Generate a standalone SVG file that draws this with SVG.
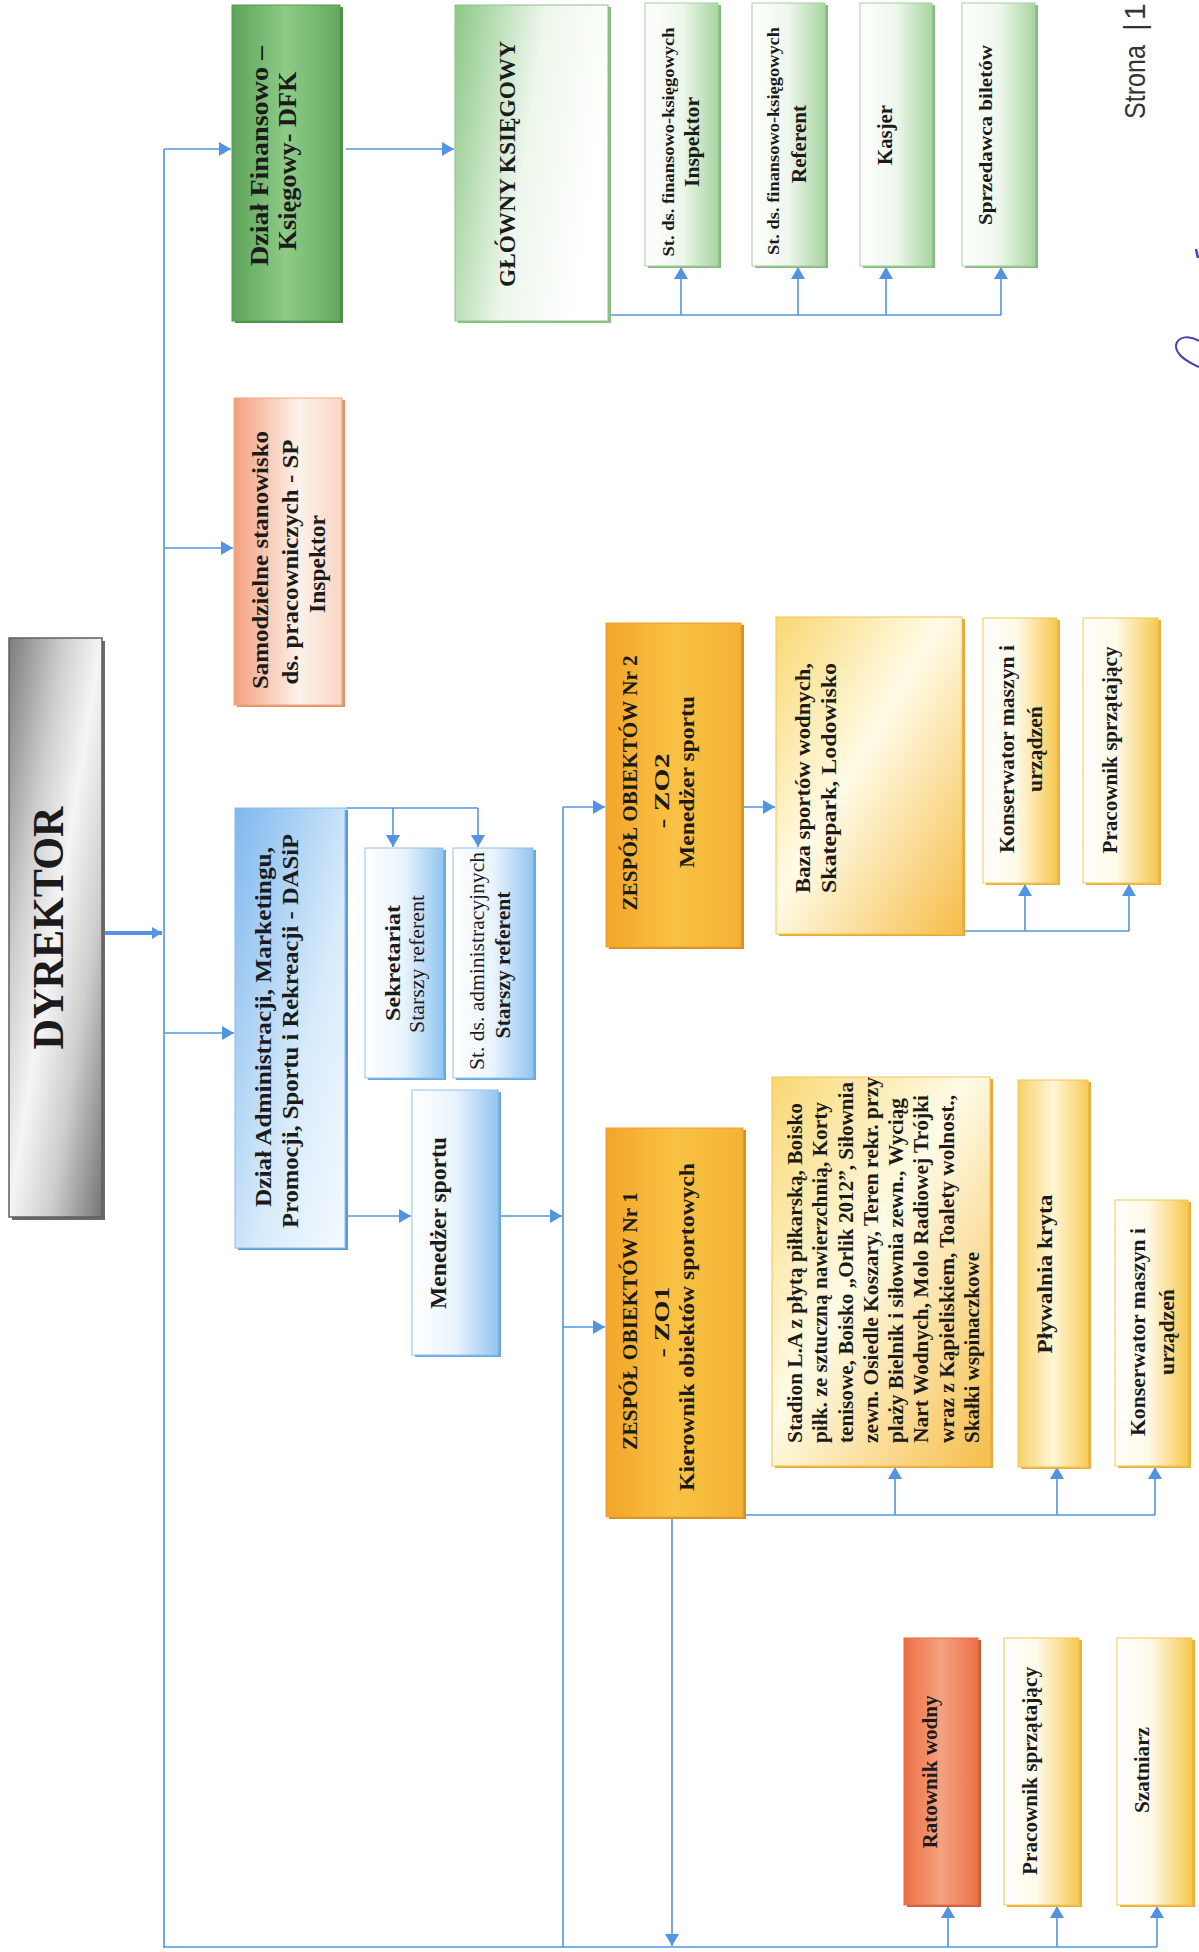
<svg xmlns="http://www.w3.org/2000/svg" width="1199" height="1952" viewBox="0 0 1199 1952">
<style>
.t{font-family:"Liberation Serif","Times New Roman",serif;font-weight:bold;fill:#1b1b1b;text-anchor:middle}
.r{font-weight:normal}
.s{text-anchor:start}
.c{fill:none;stroke:#5294e2;stroke-width:1.6}
.ca{fill:none;stroke:#5294e2;stroke-width:1.6;marker-end:url(#ah)}
</style>
<defs>
<marker id="ah" viewBox="0 0 12 14" refX="12" refY="7" markerWidth="12" markerHeight="14" markerUnits="userSpaceOnUse" orient="auto"><path d="M0,0 L12,7 L0,14 z" fill="#5294e2"/></marker>
<marker id="ahb" viewBox="0 0 10 12" refX="10" refY="6" markerWidth="10" markerHeight="12" markerUnits="userSpaceOnUse" orient="auto"><path d="M0,0 L10,6 L0,12 z" fill="#5294e2"/></marker>
<linearGradient id="gGray" x1="0" y1="0" x2="1" y2="1"><stop offset="0" stop-color="#7c7c7c"/><stop offset="0.3" stop-color="#cfcfcf"/><stop offset="0.5" stop-color="#f5f5f5"/><stop offset="0.72" stop-color="#cdcdcd"/><stop offset="1" stop-color="#757575"/></linearGradient>
<linearGradient id="gDfk" x1="0" y1="0" x2="1" y2="0"><stop offset="0" stop-color="#5ea459"/><stop offset="0.5" stop-color="#8ecb88"/><stop offset="1" stop-color="#64a95e"/></linearGradient>
<linearGradient id="gGk" x1="0" y1="0" x2="1" y2="0.3"><stop offset="0" stop-color="#8cc886"/><stop offset="0.55" stop-color="#eef7ec"/><stop offset="1" stop-color="#ffffff"/></linearGradient>
<linearGradient id="gGs" x1="0" y1="0" x2="1" y2="0"><stop offset="0" stop-color="#ffffff"/><stop offset="0.5" stop-color="#eef7ec"/><stop offset="1" stop-color="#a9d5a2"/></linearGradient>
<linearGradient id="gSp" x1="0" y1="0" x2="1" y2="0"><stop offset="0" stop-color="#f3a07e"/><stop offset="0.6" stop-color="#fdf1ea"/><stop offset="1" stop-color="#f9d6c4"/></linearGradient>
<linearGradient id="gBl" x1="0" y1="0" x2="1" y2="1"><stop offset="0" stop-color="#7fb8ee"/><stop offset="0.6" stop-color="#d8ebfb"/><stop offset="1" stop-color="#f5faff"/></linearGradient>
<linearGradient id="gBs" x1="0" y1="0" x2="1" y2="0"><stop offset="0" stop-color="#ffffff"/><stop offset="0.5" stop-color="#eaf4fd"/><stop offset="1" stop-color="#94c5f1"/></linearGradient>
<linearGradient id="gOr" x1="0" y1="0" x2="1" y2="0"><stop offset="0" stop-color="#f2a52a"/><stop offset="0.5" stop-color="#f9c244"/><stop offset="1" stop-color="#f4b235"/></linearGradient>
<linearGradient id="gLy" x1="0" y1="0" x2="1" y2="1"><stop offset="0" stop-color="#f9d772"/><stop offset="0.45" stop-color="#fffbe6"/><stop offset="1" stop-color="#f6bd4a"/></linearGradient>
<linearGradient id="gYs" x1="0" y1="0" x2="1" y2="0"><stop offset="0" stop-color="#ffffff"/><stop offset="0.45" stop-color="#fefae8"/><stop offset="1" stop-color="#f7c850"/></linearGradient>
<linearGradient id="gPl" x1="0" y1="0" x2="1" y2="0"><stop offset="0" stop-color="#f8d169"/><stop offset="0.5" stop-color="#fff6d6"/><stop offset="1" stop-color="#f8cc5c"/></linearGradient>
<linearGradient id="gRt" x1="0" y1="0" x2="1" y2="0"><stop offset="0" stop-color="#ec6f45"/><stop offset="0.5" stop-color="#f4a280"/><stop offset="1" stop-color="#ec7148"/></linearGradient>
</defs>
<rect width="1199" height="1952" fill="#ffffff"/>

<g id="connectors">
<path d="M102,933 H162" fill="none" stroke="#5294e2" stroke-width="4" marker-end="url(#ahb)"/>
<path class="c" d="M164,149 V1948"/>
<path class="ca" d="M164,149 H231"/>
<path class="ca" d="M164,548 H233"/>
<path class="ca" d="M164,1033 H234"/>
<path class="c" d="M164,1947 H1157"/>
<path class="ca" d="M346,149 H454"/>
<path class="c" d="M608,315 H1001"/>
<path class="ca" d="M681,315 V267"/>
<path class="ca" d="M798,315 V267"/>
<path class="ca" d="M886,315 V267"/>
<path class="ca" d="M1001,315 V267"/>
<path class="c" d="M346,808 H478"/>
<path class="ca" d="M393,808 V847"/>
<path class="ca" d="M478,808 V847"/>
<path class="ca" d="M348,1216 H411"/>
<path class="ca" d="M498,1216 H562"/>
<path class="c" d="M563,807 V1947"/>
<path class="ca" d="M563,807 H605"/>
<path class="ca" d="M563,1327 H605"/>
<path class="ca" d="M742,807 H775"/>
<path class="c" d="M962,931 H1129"/>
<path class="ca" d="M1025,931 V884"/>
<path class="ca" d="M1129,931 V884"/>
<path class="c" d="M743,1515 H1155"/>
<path class="ca" d="M895,1515 V1467"/>
<path class="ca" d="M1057,1515 V1467"/>
<path class="ca" d="M1155,1515 V1467"/>
<path class="ca" d="M672,1517 V1946"/>
<path class="ca" d="M948,1947 V1906"/>
<path class="ca" d="M1057,1947 V1906"/>
<path class="ca" d="M1157,1947 V1906"/>
</g>

<g id="dyrektor">
<rect x="12" y="641" width="93" height="579" fill="#6a6a6a"/>
<rect x="9" y="638" width="93" height="579" fill="url(#gGray)" stroke="#5f5f5f" stroke-width="1.5"/>
<text class="t" font-size="44" transform="translate(63,928) rotate(-90)" textLength="243" lengthAdjust="spacingAndGlyphs">DYREKTOR</text>
</g>

<g id="dfk">
<rect x="235" y="7" width="108" height="316" fill="#4f8f4b"/>
<rect x="232" y="5" width="108" height="316" fill="url(#gDfk)" stroke="#5a9a55" stroke-width="1"/>
<text class="t" font-size="25" transform="translate(268,156) rotate(-90)" textLength="220" lengthAdjust="spacingAndGlyphs">Dział Finansowo –</text>
<text class="t" font-size="25" transform="translate(296,161) rotate(-90)" textLength="179" lengthAdjust="spacingAndGlyphs">Księgowy- DFK</text>
</g>

<g id="glowny">
<rect x="458" y="7" width="153" height="316" fill="#8cbf86"/>
<rect x="455" y="5" width="153" height="316" fill="url(#gGk)" stroke="#8cc486" stroke-width="1"/>
<text class="t" font-size="23" transform="translate(515,164) rotate(-90)" textLength="246" lengthAdjust="spacingAndGlyphs">GŁÓWNY KSIĘGOWY</text>
</g>

<g id="inspektor-fk">
<rect x="648" y="5" width="73" height="263" fill="#86bb80"/>
<rect x="645" y="3" width="73" height="263" fill="url(#gGs)" stroke="#a5d09f" stroke-width="1"/>
<text class="t" font-size="16" transform="translate(674,142) rotate(-90)" textLength="229" lengthAdjust="spacingAndGlyphs">St. ds. finansowo-księgowych</text>
<text class="t" font-size="20" transform="translate(699,142) rotate(-90)" textLength="90" lengthAdjust="spacingAndGlyphs">Inspektor</text>
</g>

<g id="referent-fk">
<rect x="755" y="5" width="73" height="263" fill="#86bb80"/>
<rect x="752" y="3" width="73" height="263" fill="url(#gGs)" stroke="#a5d09f" stroke-width="1"/>
<text class="t" font-size="16" transform="translate(779,141) rotate(-90)" textLength="228" lengthAdjust="spacingAndGlyphs">St. ds. finansowo-księgowych</text>
<text class="t" font-size="20" transform="translate(806,144) rotate(-90)" textLength="78" lengthAdjust="spacingAndGlyphs">Referent</text>
</g>

<g id="kasjer">
<rect x="863" y="5" width="72" height="263" fill="#86bb80"/>
<rect x="860" y="3" width="72" height="263" fill="url(#gGs)" stroke="#a5d09f" stroke-width="1"/>
<text class="t" font-size="20" transform="translate(892,135) rotate(-90)" textLength="60" lengthAdjust="spacingAndGlyphs">Kasjer</text>
</g>

<g id="sprzedawca">
<rect x="965" y="5" width="73" height="263" fill="#86bb80"/>
<rect x="962" y="3" width="73" height="263" fill="url(#gGs)" stroke="#a5d09f" stroke-width="1"/>
<text class="t" font-size="18" transform="translate(992,135) rotate(-90)" textLength="180" lengthAdjust="spacingAndGlyphs">Sprzedawca biletów</text>
</g>

<g id="strona">
<text font-family="Liberation Sans, Arial, sans-serif" font-size="30" fill="#333333" transform="translate(1145,119) rotate(-90)"><tspan textLength="74" lengthAdjust="spacingAndGlyphs">Strona</tspan><tspan x="88">|</tspan><tspan x="99">1</tspan></text>
</g>
<g id="podpis">
<path d="M1199,341 C1190,335 1178,336 1176,345 C1175,355 1188,362 1199,367" fill="none" stroke="#4b3fb0" stroke-width="2"/>
<path d="M1196,249 L1198,258" fill="none" stroke="#4b3fb0" stroke-width="2.5"/>
</g>

<g id="sp">
<rect x="237" y="400" width="108" height="307" fill="#e5916d"/>
<rect x="234" y="398" width="108" height="307" fill="url(#gSp)" stroke="#f0a583" stroke-width="1"/>
<text class="t" font-size="24" transform="translate(268,560) rotate(-90)" textLength="258" lengthAdjust="spacingAndGlyphs">Samodzielne stanowisko</text>
<text class="t" font-size="24" transform="translate(298,562) rotate(-90)" textLength="245" lengthAdjust="spacingAndGlyphs">ds. pracowniczych - SP</text>
<text class="t" font-size="24" transform="translate(325,564) rotate(-90)" textLength="98" lengthAdjust="spacingAndGlyphs">Inspektor</text>
</g>

<g id="dasip">
<rect x="238" y="810" width="110" height="440" fill="#5b9bd8"/>
<rect x="235" y="808" width="110" height="440" fill="url(#gBl)" stroke="#86bdf0" stroke-width="1"/>
<text class="t" font-size="24" transform="translate(271,1027) rotate(-90)" textLength="360" lengthAdjust="spacingAndGlyphs">Dział Administracji, Marketingu,</text>
<text class="t" font-size="24" transform="translate(298,1031) rotate(-90)" textLength="394" lengthAdjust="spacingAndGlyphs">Promocji, Sportu i Rekreacji  - DASiP</text>
</g>

<g id="sekretariat">
<rect x="368" y="850" width="78" height="230" fill="#6aa8e2"/>
<rect x="365" y="848" width="78" height="230" fill="url(#gBs)" stroke="#8fc1ef" stroke-width="1"/>
<text class="t" font-size="22" transform="translate(400,963) rotate(-90)" textLength="116" lengthAdjust="spacingAndGlyphs">Sekretariat</text>
<text class="t r" font-size="20" transform="translate(424,964) rotate(-90)" textLength="138" lengthAdjust="spacingAndGlyphs">Starszy referent</text>
</g>

<g id="st-administracyjnych">
<rect x="456" y="850" width="80" height="230" fill="#6aa8e2"/>
<rect x="453" y="848" width="80" height="230" fill="url(#gBs)" stroke="#8fc1ef" stroke-width="1"/>
<text class="t r" font-size="20" transform="translate(484,961) rotate(-90)" textLength="218" lengthAdjust="spacingAndGlyphs">St. ds. administracyjnych</text>
<text class="t" font-size="21" transform="translate(510,965) rotate(-90)" textLength="147" lengthAdjust="spacingAndGlyphs">Starszy referent</text>
</g>

<g id="menedzer">
<rect x="415" y="1092" width="86" height="265" fill="#6aa8e2"/>
<rect x="412" y="1090" width="86" height="265" fill="url(#gBs)" stroke="#8fc1ef" stroke-width="1"/>
<text class="t" font-size="23" transform="translate(446,1223) rotate(-90)" textLength="172" lengthAdjust="spacingAndGlyphs">Menedżer sportu</text>
</g>

<g id="zo2">
<rect x="609" y="625" width="135" height="324" fill="#d98f1c"/>
<rect x="606" y="623" width="135" height="324" fill="url(#gOr)" stroke="#eda22a" stroke-width="1"/>
<text class="t" font-size="21" transform="translate(637,783) rotate(-90)" textLength="255" lengthAdjust="spacingAndGlyphs">ZESPÓŁ OBIEKTÓW Nr 2</text>
<text class="t" font-size="21" transform="translate(669,791) rotate(-90)" textLength="75" lengthAdjust="spacingAndGlyphs">- ZO2</text>
<text class="t" font-size="21" transform="translate(694,782) rotate(-90)" textLength="172" lengthAdjust="spacingAndGlyphs">Menedżer sportu</text>
</g>

<g id="zo1">
<rect x="609" y="1130" width="137" height="389" fill="#d98f1c"/>
<rect x="606" y="1128" width="137" height="389" fill="url(#gOr)" stroke="#eda22a" stroke-width="1"/>
<text class="t" font-size="21" transform="translate(637,1321) rotate(-90)" textLength="258" lengthAdjust="spacingAndGlyphs">ZESPÓŁ OBIEKTÓW Nr 1</text>
<text class="t" font-size="21" transform="translate(669,1322) rotate(-90)" textLength="71" lengthAdjust="spacingAndGlyphs">- ZO1</text>
<text class="t" font-size="21" transform="translate(694,1327) rotate(-90)" textLength="328" lengthAdjust="spacingAndGlyphs">Kierownik obiektów sportowych</text>
</g>

<g id="baza">
<rect x="779" y="619" width="186" height="317" fill="#eaa83a"/>
<rect x="776" y="617" width="186" height="317" fill="url(#gLy)" stroke="#f3c455" stroke-width="1"/>
<text class="t" font-size="22" transform="translate(810,778) rotate(-90)" textLength="230" lengthAdjust="spacingAndGlyphs">Baza sportów wodnych,</text>
<text class="t" font-size="22" transform="translate(836,778) rotate(-90)" textLength="230" lengthAdjust="spacingAndGlyphs">Skatepark, Lodowisko</text>
</g>

<g id="konserwator-zo2">
<rect x="986" y="620" width="74" height="265" fill="#eab040"/>
<rect x="983" y="618" width="74" height="265" fill="url(#gYs)" stroke="#f3c64f" stroke-width="1"/>
<text class="t" font-size="20" transform="translate(1014,749) rotate(-90)" textLength="208" lengthAdjust="spacingAndGlyphs">Konserwator  maszyn i</text>
<text class="t" font-size="20" transform="translate(1042,749) rotate(-90)" textLength="86" lengthAdjust="spacingAndGlyphs">urządzeń</text>
</g>

<g id="pracownik-zo2">
<rect x="1086" y="620" width="75" height="265" fill="#eab040"/>
<rect x="1083" y="618" width="75" height="265" fill="url(#gYs)" stroke="#f3c64f" stroke-width="1"/>
<text class="t" font-size="20" transform="translate(1117,750) rotate(-90)" textLength="207" lengthAdjust="spacingAndGlyphs">Pracownik sprzątający</text>
</g>

<g id="stadion">
<rect x="775" y="1079" width="218" height="389" fill="#eaa83a"/>
<rect x="772" y="1077" width="218" height="389" fill="url(#gLy)" stroke="#f3c455" stroke-width="1"/>
<text class="t s" font-size="20" transform="translate(802,1443) rotate(-90)" textLength="340" lengthAdjust="spacingAndGlyphs">Stadion L.A z płytą piłkarską, Boisko</text>
<text class="t s" font-size="20" transform="translate(827,1443) rotate(-90)" textLength="341" lengthAdjust="spacingAndGlyphs">piłk. ze sztuczną nawierzchnią, Korty</text>
<text class="t s" font-size="20" transform="translate(853,1443) rotate(-90)" textLength="361" lengthAdjust="spacingAndGlyphs">tenisowe, Boisko „Orlik 2012”, Siłownia</text>
<text class="t s" font-size="20" transform="translate(878,1443) rotate(-90)" textLength="366" lengthAdjust="spacingAndGlyphs">zewn. Osiedle Koszary, Teren rekr. przy</text>
<text class="t s" font-size="20" transform="translate(903,1443) rotate(-90)" textLength="345" lengthAdjust="spacingAndGlyphs">plaży Bielnik i siłownia zewn., Wyciąg</text>
<text class="t s" font-size="20" transform="translate(928,1443) rotate(-90)" textLength="348" lengthAdjust="spacingAndGlyphs">Nart Wodnych, Molo Radiowej Trójki</text>
<text class="t s" font-size="20" transform="translate(954,1443) rotate(-90)" textLength="348" lengthAdjust="spacingAndGlyphs">wraz z Kąpieliskiem, Toalety wolnost.,</text>
<text class="t s" font-size="20" transform="translate(979,1443) rotate(-90)" textLength="191" lengthAdjust="spacingAndGlyphs">Skałki wspinaczkowe</text>
</g>

<g id="plywalnia">
<rect x="1021" y="1082" width="70" height="387" fill="#eab040"/>
<rect x="1018" y="1080" width="70" height="387" fill="url(#gPl)" stroke="#f3c64f" stroke-width="1"/>
<text class="t" font-size="22" transform="translate(1052,1274) rotate(-90)" textLength="159" lengthAdjust="spacingAndGlyphs">Pływalnia kryta</text>
</g>

<g id="konserwator-zo1">
<rect x="1118" y="1202" width="73" height="266" fill="#eab040"/>
<rect x="1115" y="1200" width="73" height="266" fill="url(#gYs)" stroke="#f3c64f" stroke-width="1"/>
<text class="t" font-size="20" transform="translate(1145,1332) rotate(-90)" textLength="208" lengthAdjust="spacingAndGlyphs">Konserwator  maszyn i</text>
<text class="t" font-size="20" transform="translate(1174,1332) rotate(-90)" textLength="86" lengthAdjust="spacingAndGlyphs">urządzeń</text>
</g>

<g id="ratownik">
<rect x="907" y="1640" width="74" height="267" fill="#c9603a"/>
<rect x="904" y="1638" width="74" height="267" fill="url(#gRt)" stroke="#e66a40" stroke-width="1"/>
<text class="t" font-size="20" transform="translate(937,1772) rotate(-90)" textLength="153" lengthAdjust="spacingAndGlyphs">Ratownik wodny</text>
</g>

<g id="pracownik-sp">
<rect x="1007" y="1640" width="75" height="267" fill="#eab040"/>
<rect x="1004" y="1638" width="75" height="267" fill="url(#gYs)" stroke="#f3c64f" stroke-width="1"/>
<text class="t" font-size="21" transform="translate(1037,1771) rotate(-90)" textLength="208" lengthAdjust="spacingAndGlyphs">Pracownik sprzątający</text>
</g>

<g id="szatniarz">
<rect x="1120" y="1640" width="75" height="267" fill="#eab040"/>
<rect x="1117" y="1638" width="75" height="267" fill="url(#gYs)" stroke="#f3c64f" stroke-width="1"/>
<text class="t" font-size="21" transform="translate(1149,1770) rotate(-90)" textLength="86" lengthAdjust="spacingAndGlyphs">Szatniarz</text>
</g>
</svg>
